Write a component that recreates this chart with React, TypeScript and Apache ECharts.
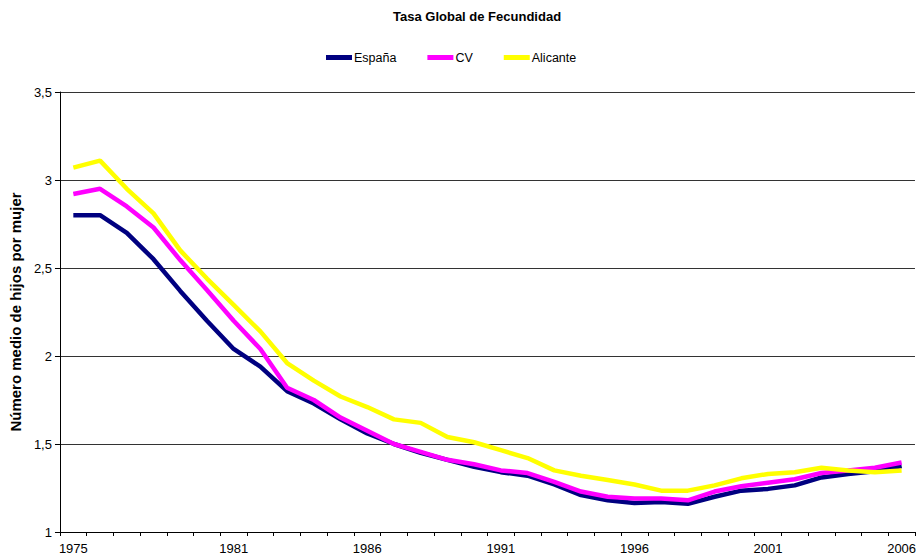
import React, { useEffect, useRef } from "react";
import * as echarts from "echarts";

const years: string[] = [];
for (let y = 1975; y <= 2006; y++) years.push(String(y));

const espana = [2.8, 2.8, 2.7, 2.55, 2.37, 2.2, 2.04, 1.94, 1.8, 1.73, 1.64, 1.56, 1.5, 1.45, 1.41, 1.37, 1.34, 1.32, 1.27, 1.21, 1.18, 1.165, 1.17, 1.16, 1.2, 1.235, 1.245, 1.265, 1.31, 1.33, 1.345, 1.375];
const cv = [2.92, 2.95, 2.85, 2.73, 2.545, 2.375, 2.2, 2.04, 1.82, 1.75, 1.65, 1.575, 1.5, 1.455, 1.41, 1.385, 1.35, 1.335, 1.285, 1.23, 1.2, 1.19, 1.19, 1.18, 1.23, 1.26, 1.28, 1.3, 1.335, 1.35, 1.365, 1.395];
const alicante = [3.07, 3.11, 2.95, 2.81, 2.6, 2.44, 2.29, 2.14, 1.96, 1.86, 1.77, 1.71, 1.64, 1.62, 1.54, 1.51, 1.465, 1.42, 1.35, 1.32, 1.295, 1.27, 1.235, 1.235, 1.265, 1.305, 1.33, 1.34, 1.365, 1.35, 1.34, 1.35];

const FONT = "Liberation Sans, Arial, sans-serif";

export default function App() {
  const ref = useRef<HTMLDivElement>(null);
  useEffect(() => {
    document.body.style.margin = "0";
    document.body.style.overflow = "hidden";
    const chart = echarts.init(ref.current!, undefined, { renderer: "svg" });
    const mk = (name: string, data: number[], color: string) => ({
      name,
      type: "line",
      data,
      symbol: "none",
      lineStyle: { color, width: 4.5 },
      itemStyle: { color },
    });
    chart.setOption({
      animation: false,
      textStyle: { fontFamily: FONT },
      title: {
        text: "Tasa Global de Fecundidad",
        left: 388,
        top: 5,
        textStyle: { fontSize: 13, fontWeight: "bold", color: "#000", fontFamily: FONT },
      },
      legend: {
        left: 321,
        top: 46,
        itemWidth: 26,
        itemHeight: 5,
        itemGap: 31,
        icon: "rect",
        textStyle: { fontSize: 12.5, color: "#000", fontFamily: FONT, padding: [0, 0, 0, -3] },
        data: ["España", "CV", "Alicante"],
      },
      grid: { left: 59, top: 92, right: 0, bottom: 26, containLabel: false },
      xAxis: {
        type: "category",
        data: years,
        boundaryGap: true,
        axisLine: { lineStyle: { color: "#000", width: 1 } },
        axisTick: { show: true, interval: 0, length: 4, lineStyle: { color: "#000" } },
        axisLabel: {
          interval: (i: number, v: string) => {
            const y = Number(v);
            return y === 1975 || (y >= 1981 && (y - 1981) % 5 === 0);
          },
          fontSize: 13,
          color: "#000",
          margin: 10,
          fontFamily: FONT,
        },
        splitLine: { show: false },
      },
      yAxis: {
        type: "value",
        min: 1,
        max: 3.5,
        interval: 0.5,
        name: "Número medio de hijos por mujer",
        nameLocation: "middle",
        nameGap: 32,
        nameTextStyle: { fontSize: 15, fontWeight: "bold", color: "#000", fontFamily: FONT },
        axisLine: { show: true, lineStyle: { color: "#000", width: 1 } },
        axisTick: { show: true, length: 5, lineStyle: { color: "#000" } },
        axisLabel: {
          fontSize: 13,
          color: "#000",
          margin: 8,
          fontFamily: FONT,
          formatter: (v: number) => String(v).replace(".", ","),
        },
        splitLine: { show: true, lineStyle: { color: "#333", width: 1 } },
      },
      series: [
        mk("España", espana, "#000080"),
        mk("CV", cv, "#FF00FF"),
        mk("Alicante", alicante, "#FFFF00"),
      ],
    });
    return () => chart.dispose();
  }, []);
  return (
    <div
      ref={ref}
      style={{ position: "absolute", left: 0, top: 0, width: 919, height: 558 }}
    />
  );
}
